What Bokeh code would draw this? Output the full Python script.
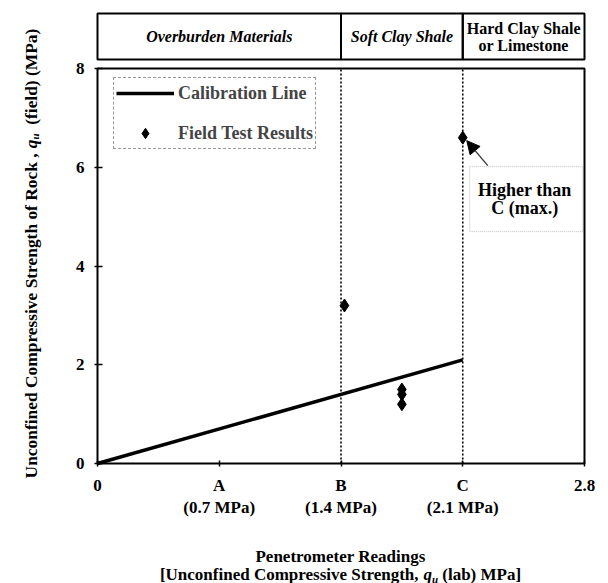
import math
from bokeh.plotting import figure
from bokeh.layouts import row, column
from bokeh.models import (Range1d, FixedTicker, Label, Legend, LegendItem,
                          Arrow, NormalHead, BoxAnnotation)
from bokeh.embed import file_html
from bokeh.resources import INLINE

# ---------------- data ----------------
x_ticks = [0, 0.7, 1.4, 2.1, 2.8]
x_tick_labels = ["0", "A\n(0.7 MPa)", "B\n(1.4 MPa)", "C\n(2.1 MPa)", "2.8"]
y_ticks = [0, 2, 4, 6, 8]
y_tick_labels = ["0", "2", "4", "6", "8"]

calib_x = [0.0, 2.1]
calib_y = [0.0, 2.1]

field_x = [1.42, 1.75, 1.75, 1.75, 2.1]
field_y = [3.2, 1.5, 1.4, 1.2, 6.6]

zone_edges = [0.0, 1.4, 2.1, 2.8]
zone_names = ["Overburden Materials", "Soft Clay Shale", "Hard Clay Shale\nor Limestone"]
zone_styles = ["bold italic", "bold italic", "bold"]
boundary_x = [1.4, 2.1]

legend_labels = ["Calibration Line", "Field Test Results"]
note_lines = ["Higher than", "C (max.)"]

x_title_line1 = "Penetrometer Readings"
x_title_line2 = [("[Unconfined Compressive Strength, ", "bold", False),
                 ("q", "bold italic", False), ("u", "bold italic", True),
                 (" (lab) MPa]", "bold", False)]
y_title = [("Unconfined Compressive Strength of Rock , ", "bold", False),
           ("q", "bold italic", False), ("u", "bold italic", True),
           ("  (field) (MPa)", "bold", False)]

# ---------------- geometry / style (page pixels) ----------------
FONT = "Liberation Serif"
W, H = 608, 583
X0, Y0 = 97, 463          # page px of data origin
FW, FH = 487, 395         # px spanned by x 0..2.8 and y 0..8
PAD = 3
SX = FW / x_ticks[-1]
SY = FH / y_ticks[-1]
HEAD_TOP, HEAD_BOT = 13, 59
FRAME_TOP = 10
YT_W = 50                 # width of the left title strip
XT_H = 52                 # height of the bottom title strip
MAIN_H = H - XT_H
MAIN_W = W - YT_W
BORDER_LEFT = X0 - PAD - YT_W
BORDER_RIGHT = W - (X0 + FW + PAD)
BORDER_BOTTOM = MAIN_H - (Y0 + PAD)

x_range = Range1d(-PAD / SX, x_ticks[-1] + PAD / SX)
y_range = Range1d(-PAD / SY, (Y0 - FRAME_TOP) / SY)

p = figure(width=MAIN_W, height=MAIN_H, x_range=x_range, y_range=y_range,
           output_backend="svg", toolbar_location=None, title=None,
           min_border_left=BORDER_LEFT, min_border_right=BORDER_RIGHT,
           min_border_top=FRAME_TOP, min_border_bottom=BORDER_BOTTOM)
p.outline_line_color = None
p.xgrid.visible = False
p.ygrid.visible = False
p.background_fill_color = "white"
p.border_fill_color = "white"

for ax in (p.xaxis[0], p.yaxis[0]):
    ax.axis_line_color = None
    ax.major_tick_out = 0
    ax.minor_tick_out = 0
    ax.minor_tick_in = 0
    ax.major_tick_line_color = "black"
    ax.major_tick_line_width = 1.5
    ax.major_label_text_font = FONT
    ax.major_label_text_font_style = "bold"
    ax.major_label_text_font_size = "17px"
    ax.major_label_text_color = "black"

p.xaxis.ticker = FixedTicker(ticks=x_ticks)
p.xaxis.major_label_overrides = {t: l for t, l in zip(x_ticks, x_tick_labels)}
p.xaxis.major_tick_in = 6
p.xaxis.major_label_standoff = 9

p.yaxis.ticker = FixedTicker(ticks=y_ticks)
p.yaxis.major_label_overrides = {t: l for t, l in zip(y_ticks, y_tick_labels)}
p.yaxis.major_tick_in = 8
p.yaxis.major_label_standoff = 10

# plot frame
p.quad(left=[x_ticks[0]], right=[x_ticks[-1]], bottom=[y_ticks[0]], top=[y_ticks[-1]],
       fill_color=None, line_color="black", line_width=2)

# header band
h_top = (Y0 - HEAD_TOP) / SY
h_bot = (Y0 - HEAD_BOT) / SY
p.quad(left=zone_edges[:-1], right=zone_edges[1:], bottom=h_bot, top=h_top,
       fill_color=None, line_color="black", line_width=2)
h_mid = (h_top + h_bot) / 2
for i, (name, style) in enumerate(zip(zone_names, zone_styles)):
    cx = (zone_edges[i] + zone_edges[i + 1]) / 2
    lines = name.split("\n")
    n = len(lines)
    for j, ln in enumerate(lines):
        off = (n - 1) * 8.5 - j * 17
        p.add_layout(Label(x=cx, y=h_mid, y_offset=off, text=ln, text_font=FONT,
                           text_font_style=style, text_font_size="16px",
                           text_align="center", text_baseline="middle",
                           text_color="black"))

# boundaries
p.segment(x0=boundary_x, y0=[y_ticks[0]] * 2, x1=boundary_x, y1=[y_ticks[-1]] * 2,
          line_color="black", line_width=1.6, line_dash="2 2")

# calibration line and field points
r_line = p.line(calib_x, calib_y, line_color="black", line_width=3.5)
r_pts = p.scatter(field_x, field_y, marker="diamond", size=13, color="black")

legend = Legend(items=[LegendItem(label=legend_labels[0], renderers=[r_line]),
                       LegendItem(label=legend_labels[1], renderers=[r_pts])],
                location=(19, 317), label_text_font=FONT, label_text_font_style="bold",
                label_text_font_size="18px", glyph_width=58, glyph_height=26,
                label_height=26, spacing=14, padding=2, label_standoff=4, margin=0,
                border_line_color="#333333", border_line_dash="1 1", border_line_width=1,
                background_fill_color="white", background_fill_alpha=1)
p.add_layout(legend)

# annotation for highest point
hx, hy = field_x[-1], field_y[-1]
def dpx(px):
    return px / SX
def dpy(px):
    return px / SY

p.add_layout(BoxAnnotation(left=hx + dpx(7), right=hx + dpx(120),
                           top=hy - dpy(29), bottom=hy - dpy(94),
                           fill_alpha=0, line_color="#333333", line_dash="1 1",
                           line_width=1))
for j, t in enumerate(note_lines):
    p.add_layout(Label(x=hx, y=hy, x_offset=62, y_offset=-52 - 18 * j, text=t,
                       text_font=FONT, text_font_style="bold", text_font_size="18px",
                       text_align="center", text_baseline="middle", text_color="black"))
p.add_layout(Arrow(end=NormalHead(size=13, fill_color="black", line_color="black"),
                   x_start=hx + dpx(25), y_start=hy - dpy(28),
                   x_end=hx + dpx(4), y_end=hy - dpy(3),
                   line_color="#333333", line_width=1.3))

# ---------------- axis titles (rich text built from pieces) ----------------
TB = {' ': 250, ',': 250, '.': 250, '(': 333, ')': 333, '[': 333, ']': 333,
      'A': 722, 'B': 667, 'C': 722, 'D': 722, 'E': 667, 'F': 611, 'G': 778, 'H': 778,
      'I': 389, 'L': 667, 'M': 944, 'P': 611, 'R': 722, 'S': 556, 'T': 667, 'U': 722,
      'a': 500, 'b': 556, 'c': 444, 'd': 556, 'e': 444, 'f': 333, 'g': 500, 'h': 556,
      'i': 278, 'k': 556, 'l': 278, 'm': 833, 'n': 556, 'o': 500, 'p': 556, 'q': 556,
      'r': 444, 's': 389, 't': 333, 'u': 556, 'v': 500, 'y': 500}
TBI = {'q': 500, 'u': 556}

def text_w(s, size, style):
    table = TBI if "italic" in style else TB
    return sum(table.get(c, TB.get(c, 500)) for c in s) / 1000 * size

SUB_DROP = 4

def piece_sizes(pieces, size, sub_size):
    """(visible text, style, is_sub, font size, leading gap px, visible width px)"""
    out = []
    for txt, style, sub in pieces:
        sz = sub_size if sub else size
        body = txt.lstrip(" ")
        lead = text_w(txt[:len(txt) - len(body)], sz, style)
        out.append((body.rstrip(" "), style, sub, sz, lead, text_w(body, sz, style)))
    return out

def strip(width, height, left=0, right=0, top=0, bottom=0):
    fw = width - left - right
    fh = height - top - bottom
    f = figure(width=width, height=height, x_range=Range1d(0, fw),
               y_range=Range1d(0, fh), x_axis_type=None, y_axis_type=None,
               output_backend="svg", toolbar_location=None, title=None,
               min_border_left=left, min_border_right=right,
               min_border_top=top, min_border_bottom=bottom)
    f.outline_line_color = None
    f.background_fill_color = "white"
    f.border_fill_color = "white"
    return f

# left strip: full page height; data y = H - page_y
yt = strip(YT_W, H)
pcs = piece_sizes(y_title, 17.4, 11)
total = sum(pc[4] + pc[5] for pc in pcs)
cur = (H - 253) - total / 2
base_x = 30
for txt, style, sub, sz, lead, w in pcs:
    cur += lead
    yt.add_layout(Label(x=base_x + (SUB_DROP if sub else 0), y=cur, text=txt,
                        angle=math.pi / 2, text_font=FONT, text_font_style=style,
                        text_font_size=f"{sz}px", text_align="left",
                        text_baseline="alphabetic", text_color="black"))
    cur += w

# bottom strip under the main plot, same left/right borders as the main plot;
# data x = page_x - (X0 - PAD), data y = H - page_y
xt = strip(MAIN_W, XT_H, left=BORDER_LEFT, right=BORDER_RIGHT)
x_center = 340 - (X0 - PAD)
xt.add_layout(Label(x=x_center, y=H - 556, text=x_title_line1, text_font=FONT,
                    text_font_style="bold", text_font_size="17px",
                    text_align="center", text_baseline="alphabetic", text_color="black"))
pcs = piece_sizes(x_title_line2, 17, 11)
total = sum(pc[4] + pc[5] for pc in pcs)
cur = x_center - total / 2
base_y = H - 574
for txt, style, sub, sz, lead, w in pcs:
    cur += lead
    xt.add_layout(Label(x=cur, y=base_y - (SUB_DROP if sub else 0), text=txt,
                        text_font=FONT, text_font_style=style, text_font_size=f"{sz}px",
                        text_align="left", text_baseline="alphabetic", text_color="black"))
    cur += w

layout = row(yt, column(p, xt, spacing=0), spacing=0)
open("out.html", "w").write(file_html(layout, INLINE))
